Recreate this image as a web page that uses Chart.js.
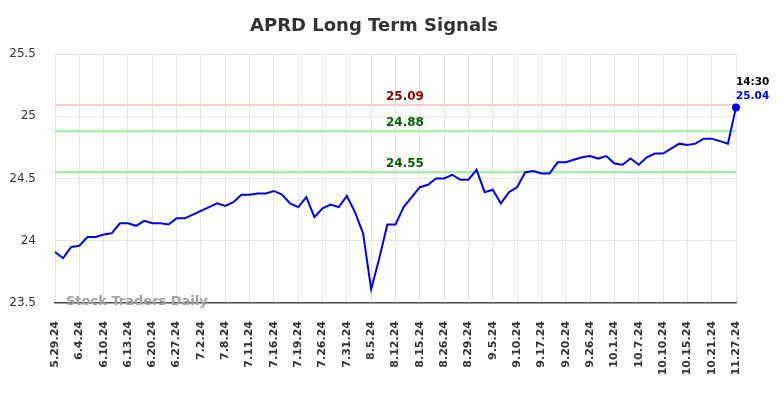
<!DOCTYPE html>
<html>
<head>
<meta charset="utf-8">
<script src="https://cdn.jsdelivr.net/npm/chart.js@4.4.0/dist/chart.umd.min.js"></script>
<style>
  body { margin: 0; background: #fff; }
  #wrap { width: 784px; height: 398px; position: relative; }
</style>
</head>
<body>
<div id="wrap"><canvas id="chart"></canvas></div>
<script>
'use strict';

// tick labels, one every third point
const tickLabels = ['5.29.24', '6.4.24', '6.10.24', '6.13.24', '6.20.24', '6.27.24', '7.2.24', '7.8.24',
  '7.11.24', '7.16.24', '7.19.24', '7.26.24', '7.31.24', '8.5.24', '8.12.24', '8.15.24', '8.26.24',
  '8.29.24', '9.5.24', '9.10.24', '9.17.24', '9.20.24', '9.26.24', '10.1.24', '10.7.24', '10.10.24',
  '10.15.24', '10.21.24', '11.27.24'];

// closing prices
const prices = [23.91, 23.86, 23.95, 23.96, 24.03, 24.03, 24.05, 24.06, 24.14, 24.14,
  24.12, 24.16, 24.14, 24.14, 24.13, 24.18, 24.18, 24.21, 24.24, 24.27,
  24.30, 24.28, 24.31, 24.37, 24.37, 24.38, 24.38, 24.40, 24.37, 24.30,
  24.27, 24.35, 24.19, 24.26, 24.29, 24.27, 24.36, 24.23, 24.06, 23.61,
  23.86, 24.13, 24.13, 24.27, 24.35, 24.43, 24.45, 24.50, 24.50, 24.53,
  24.49, 24.49, 24.57, 24.39, 24.41, 24.30, 24.39, 24.43, 24.55, 24.56,
  24.54, 24.54, 24.63, 24.63, 24.65, 24.67, 24.68, 24.66, 24.68, 24.62,
  24.61, 24.66, 24.61, 24.67, 24.70, 24.70, 24.74, 24.78, 24.77, 24.78,
  24.82, 24.82, 24.80, 24.78, 25.07];

// signal levels
const signalLevels = [25.09, 24.88, 24.55];
const signalLineColors = ['#ffcccc', '#99ee99', '#99ee99'];
const signalTextColors = ['#8b0000', '#006400', '#006400'];

const lastTime = '14:30';
const lastValueText = '25.04';

const yTicks = [23.5, 24, 24.5, 25, 25.5];

// every 3rd point carries a date label
let chartLabels = [];
for (let i = 0; i < prices.length; i++) {
  chartLabels.push(i % 3 === 0 ? tickLabels[i / 3] : '');
}

// draws title, signal lines, their labels, watermark and last value
const overlayPlugin = {
  id: 'overlay',
  beforeDatasetsDraw(chart) {
    const ctx = chart.ctx;
    const area = chart.chartArea;
    const y = chart.scales.y;
    ctx.save();
    for (let i = 0; i < signalLevels.length; i++) {
      const py = y.getPixelForValue(signalLevels[i]);
      ctx.strokeStyle = signalLineColors[i];
      ctx.lineWidth = 2;
      ctx.beginPath();
      ctx.moveTo(area.left, py);
      ctx.lineTo(area.right, py);
      ctx.stroke();
    }
    // watermark
    ctx.font = 'bold 13px "DejaVu Sans"';
    ctx.fillStyle = '#a0a0a0';
    ctx.textBaseline = 'middle';
    ctx.textAlign = 'left';
    ctx.fillText('Stock Traders Daily', 66, area.bottom - 1);
    ctx.restore();
  },
  afterDatasetsDraw(chart) {
    const ctx = chart.ctx;
    const x = chart.scales.x;
    const y = chart.scales.y;
    ctx.save();
    ctx.textBaseline = 'middle';
    ctx.textAlign = 'left';
    ctx.font = 'bold 12px "DejaVu Sans"';
    for (let i = 0; i < signalLevels.length; i++) {
      const py = y.getPixelForValue(signalLevels[i]);
      ctx.fillStyle = signalTextColors[i];
      ctx.fillText(signalLevels[i].toFixed(2), 386, py - 8);
    }
    const lx = x.getPixelForValue(prices.length - 1);
    ctx.font = 'bold 10.5px "DejaVu Sans"';
    ctx.fillStyle = '#000';
    ctx.fillText(lastTime, lx, 82);
    ctx.fillStyle = '#0000ff';
    ctx.fillText(lastValueText, lx, 96);

    // title
    ctx.font = 'bold 18px "DejaVu Sans"';
    ctx.fillStyle = '#333';
    ctx.textAlign = 'center';
    ctx.fillText('APRD Long Term Signals', 374, 26);
    ctx.restore();
  }
};

let chartConfig = {
  type: 'line',
  data: {
    labels: chartLabels,
    datasets: [{
      data: prices,
      borderColor: '#0000ff',
      backgroundColor: '#0000ff',
      borderWidth: 2,
      tension: 0,
      pointRadius: ctx => (ctx.dataIndex === prices.length - 1 ? 3 : 0),
      pointHoverRadius: 0
    }]
  },
  options: {
    responsive: true,
    maintainAspectRatio: false,
    animation: false,
    layout: { padding: { top: 54, right: 48, bottom: 0, left: 0 } },
    plugins: {
      legend: { display: false },
      title: { display: false },
      tooltip: { enabled: false }
    },
    scales: {
      x: {
        afterFit: s => { s.height = 95; },
        grid: {
          color: ctx => (ctx.index % 3 === 0 ? '#e6e6e6' : 'rgba(0,0,0,0)'),
          drawTicks: false
        },
        border: { color: '#555', width: 1.5 },
        ticks: {
          autoSkip: false,
          maxRotation: 90,
          minRotation: 90,
          padding: 18,
          color: '#333',
          font: { family: 'DejaVu Sans', size: 11, weight: 'bold' }
        }
      },
      y: {
        min: 23.5,
        max: 25.5,
        afterFit: s => { s.width = 55; },
        afterBuildTicks: s => { s.ticks = yTicks.map(v => ({ value: v })); },
        grid: { color: '#e6e6e6', drawTicks: false },
        border: { display: false },
        ticks: {
          padding: 19,
          color: '#333',
          font: { family: 'DejaVu Sans', size: 12 },
          callback: v => String(v)
        }
      }
    }
  },
  plugins: [overlayPlugin]
};

new Chart(document.getElementById('chart'), chartConfig);
</script>
</body>
</html>
